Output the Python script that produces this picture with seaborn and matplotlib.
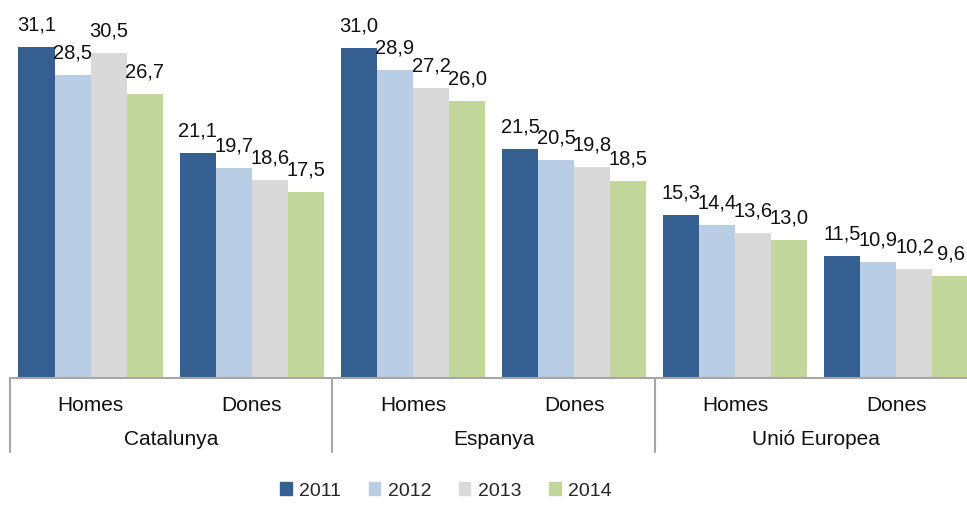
import pandas as pd
import matplotlib.pyplot as plt
import matplotlib.transforms as mtransforms
import seaborn as sns

# Chart data
regions = ["Catalunya", "Espanya", "Unió Europea"]
sexes = ["Homes", "Dones"]
years = ["2011", "2012", "2013", "2014"]
values_2011 = [31.1, 21.1, 31.0, 21.5, 15.3, 11.5]
values_2012 = [28.5, 19.7, 28.9, 20.5, 14.4, 10.9]
values_2013 = [30.5, 18.6, 27.2, 19.8, 13.6, 10.2]
values_2014 = [26.7, 17.5, 26.0, 18.5, 13.0, 9.6]
colors = ["#365F91", "#B9CDE5", "#D9D9D9", "#C3D69B"]

# Long-form table for seaborn
slots = [f"{r}|{s}" for r in regions for s in sexes]
rows = []
for year, vals in zip(years, [values_2011, values_2012, values_2013, values_2014]):
    for slot, v in zip(slots, vals):
        rows.append({"slot": slot, "year": year, "value": v})
df = pd.DataFrame(rows)

sns.set_style("white")
plt.rcParams["font.family"] = ["Liberation Sans", "DejaVu Sans"]

fig = plt.figure(figsize=(9.67, 5.17), dpi=100)
ax = fig.add_axes([10 / 967, 1 - 378 / 517, 967 / 967, 378 / 517])

sns.barplot(data=df, x="slot", y="value", hue="year", order=slots, hue_order=years,
            palette=colors, width=0.895, gap=0, saturation=1, errorbar=None,
            linewidth=0, legend=False, ax=ax)

ax.set_xlim(-0.5, len(slots) - 0.5)
ax.set_ylim(0, 35.5)
ax.set_xlabel("")
ax.set_ylabel("")
ax.set_yticks([])
ax.set_xticks(range(len(slots)))
ax.set_xticklabels([s.split("|")[1] for s in slots], fontsize=15, color="#111111")
ax.tick_params(axis="x", length=0, pad=13)

for side in ["top", "right", "left"]:
    ax.spines[side].set_visible(False)
ax.spines["bottom"].set_color("#A6A6A6")
ax.spines["bottom"].set_linewidth(1.5)

# Data labels with comma decimals
for cont in ax.containers:
    labels = [f"{b.get_height():.1f}".replace(".", ",") for b in cont]
    ax.bar_label(cont, labels=labels, padding=9, fontsize=14.5, color="#111111")

# Hierarchical category axis
trans = mtransforms.blended_transform_factory(ax.transData, ax.transAxes)
for xpos in [-0.5, 1.5, 3.5, 5.5]:
    ax.plot([xpos, xpos], [0, -0.196], transform=trans, color="#A6A6A6",
            linewidth=1.5, clip_on=False)
for i, r in enumerate(regions):
    ax.text(2 * i + 0.5, -0.163, r, transform=trans, ha="center", va="center",
            fontsize=15, color="#111111")

# Legend
handles = [plt.Rectangle((0, 0), 1, 1, color=c) for c in colors]
fig.legend(handles, years, loc="center", bbox_to_anchor=(446 / 967, 1 - 491 / 517),
           ncol=4, frameon=False, fontsize=14, handlelength=0.6, handleheight=0.6,
           handletextpad=0.4, columnspacing=1.4)

fig.savefig("out.png", dpi=100)
